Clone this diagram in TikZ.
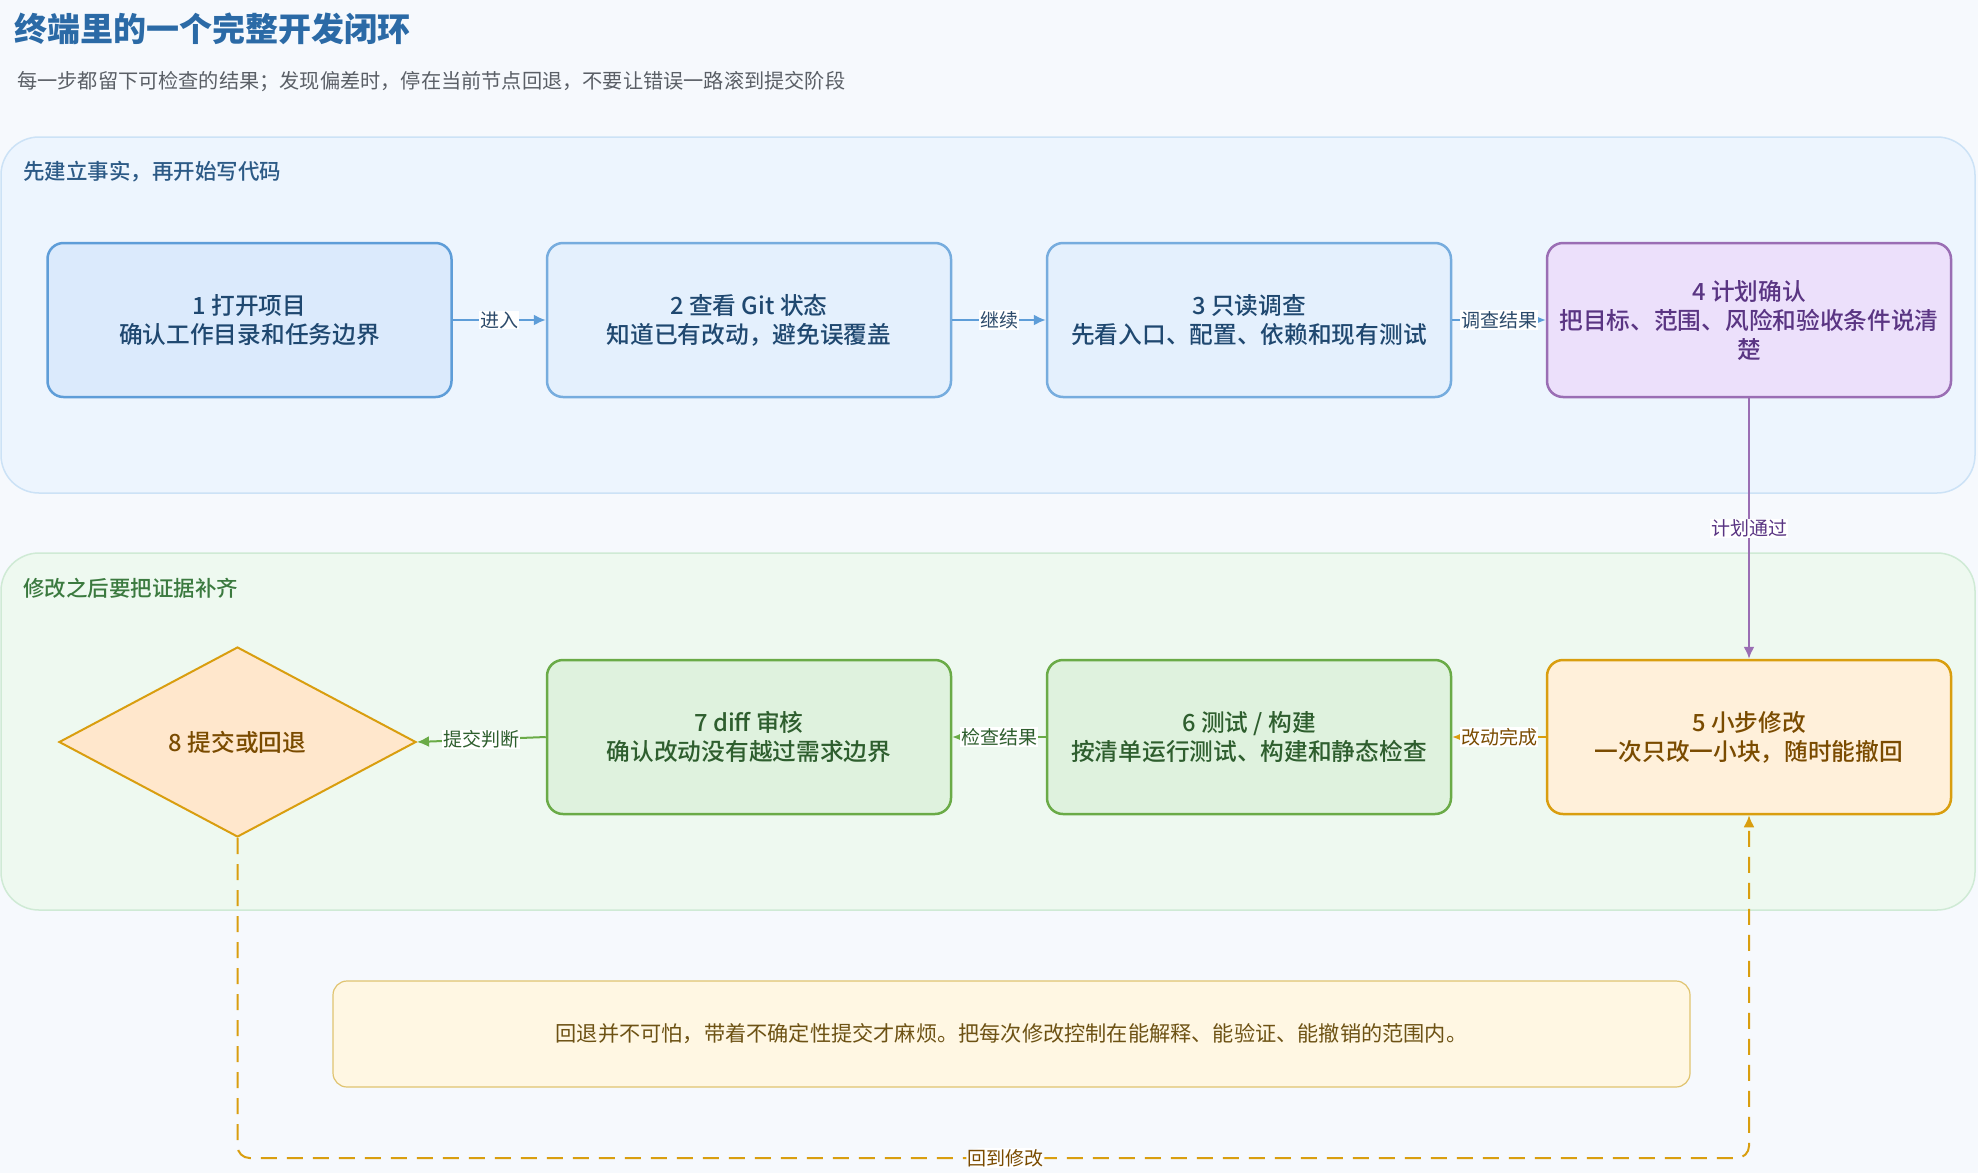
\documentclass[tikz,border=0pt]{standalone}
\usepackage{fontspec}
\setmainfont{Noto Sans CJK SC}
\newfontfamily\medfont{Noto Sans CJK SC Medium}
\usetikzlibrary{arrows.meta,shapes.geometric}
\definecolor{bgc}{HTML}{F6F9FD}
\definecolor{lanebfill}{HTML}{EDF5FE}
\definecolor{lanebdraw}{HTML}{CCE2F6}
\definecolor{lanegfill}{HTML}{EEF9F0}
\definecolor{lanegdraw}{HTML}{CFEAD5}
\definecolor{titlec}{HTML}{2B6AA6}
\definecolor{subc}{HTML}{5A5F66}
\definecolor{lanebtext}{HTML}{2C5A86}
\definecolor{lanegtext}{HTML}{3B7A3F}
\definecolor{bluetext}{HTML}{1F4870}
\definecolor{purpletext}{HTML}{5A3583}
\definecolor{greentext}{HTML}{2E5E2E}
\definecolor{browntext}{HTML}{7A4B00}
\definecolor{notetext}{HTML}{6D5214}
\definecolor{blue1fill}{HTML}{DBEAFC}
\definecolor{blue2fill}{HTML}{E4F0FD}
\definecolor{bluedraw}{HTML}{5E9DD8}
\definecolor{purplefill}{HTML}{ECE0FB}
\definecolor{purpledraw}{HTML}{9A6EB4}
\definecolor{orangefill}{HTML}{FFF0DA}
\definecolor{orangedraw}{HTML}{D99E0F}
\definecolor{greenfill}{HTML}{DFF2DE}
\definecolor{greendraw}{HTML}{6AAB47}
\definecolor{diamfill}{HTML}{FFE7CC}
\definecolor{notefill}{HTML}{FFF7E3}
\definecolor{notedraw}{HTML}{E0C470}
\definecolor{edgebluetext}{HTML}{2C4A6A}
\begin{document}
\begin{tikzpicture}[x=1pt,y=-1pt,
  stepbox/.style={draw, rounded corners=16pt, line width=2.5pt, minimum width=404pt, minimum height=154pt, align=center, inner sep=4pt, font=\fontsize{23.7}{29}\selectfont\medfont},
  lanebox/.style={rounded corners=38pt, line width=1.5pt},
  elabel/.style={fill=white, inner sep=1pt, font=\fontsize{19}{21}\selectfont},
  arr/.style={line width=2pt, -{Latex[length=12pt,width=11pt]}},
]
\fill[bgc] (0,0) rectangle (1978,1173);
\useasboundingbox (0,0) rectangle (1978,1173);

% titles
\node[anchor=west, inner sep=0, text=titlec, font=\fontsize{33}{38}\selectfont\bfseries] (title) at (14,29) {终端里的一个完整开发闭环};
\node[anchor=west, inner sep=0, text=subc, font=\fontsize{20.2}{24}\selectfont] (subtitle) at (17,82) {每一步都留下可检查的结果；发现偏差时，停在当前节点回退，不要让错误一路滚到提交阶段};

% lanes
\draw[lanebox, fill=lanebfill, draw=lanebdraw] (1,137) rectangle (1975,493);
\node[anchor=west, inner sep=0, text=lanebtext, font=\fontsize{21.5}{24}\selectfont\medfont] (lane1) at (23,172) {先建立事实，再开始写代码};
\draw[lanebox, fill=lanegfill, draw=lanegdraw] (1,553) rectangle (1975,910);
\node[anchor=west, inner sep=0, text=lanegtext, font=\fontsize{21.5}{24}\selectfont\medfont] (lane2) at (23,588) {修改之后要把证据补齐};

% top row
\node[stepbox, fill=blue1fill, draw=bluedraw, text=bluetext] (b1) at (249.5,320) {1 打开项目\\确认工作目录和任务边界};
\node[stepbox, fill=blue2fill, draw=bluedraw!85, text=bluetext] (b2) at (749,320) {2 查看 Git 状态\\知道已有改动，避免误覆盖};
\node[stepbox, fill=blue2fill, draw=bluedraw!85, text=bluetext] (b3) at (1249,320) {3 只读调查\\先看入口、配置、依赖和现有测试};
\node[stepbox, fill=purplefill, draw=purpledraw, text=purpletext] (b4) at (1749,320) {4 计划确认\\把目标、范围、风险和验收条件说清\\楚};

% bottom row
\node[stepbox, fill=orangefill, draw=orangedraw, text=browntext] (b5) at (1749,737) {5 小步修改\\一次只改一小块，随时能撤回};
\node[stepbox, fill=greenfill, draw=greendraw, text=greentext] (b6) at (1249,737) {6 测试 / 构建\\按清单运行测试、构建和静态检查};
\node[stepbox, fill=greenfill, draw=greendraw, text=greentext] (b7) at (749,737) {7 diff 审核\\确认改动没有越过需求边界};
\node[diamond, draw=orangedraw, fill=diamfill, line width=2pt, minimum width=357pt, minimum height=190pt, inner sep=0pt, text=browntext, font=\fontsize{23.7}{29}\selectfont\medfont] (b8) at (237.5,742) {8 提交或回退};

% note
\node[draw=notedraw, fill=notefill, line width=1.2pt, rounded corners=14pt, minimum width=1357pt, minimum height=106pt, text=notetext, font=\fontsize{21.2}{24}\selectfont] (note) at (1011.5,1034) {回退并不可怕，带着不确定性提交才麻烦。把每次修改控制在能解释、能验证、能撤销的范围内。};

% edges
\draw[arr, draw=bluedraw, color=bluedraw] (b1.east) -- node[elabel, text=edgebluetext] {进入} (b2.west);
\draw[arr, draw=bluedraw, color=bluedraw] (b2.east) -- node[elabel, text=edgebluetext] {继续} (b3.west);
\draw[arr, draw=bluedraw, color=bluedraw] (b3.east) -- node[elabel, text=edgebluetext] {调查结果} (b4.west);
\draw[arr, draw=purpledraw, color=purpledraw] (b4.south) -- node[elabel, text=purpletext, pos=0.5] {计划通过} (b5.north);
\draw[arr, draw=orangedraw, color=orangedraw] (b5.west) -- node[elabel, text=browntext] {改动完成} (b6.east);
\draw[arr, draw=greendraw, color=greendraw] (b6.west) -- node[elabel, text=greentext] {检查结果} (b7.east);
\draw[arr, draw=greendraw, color=greendraw] (b7.west) -- node[elabel, text=greentext] {提交判断} (b8.east);

\coordinate (lp1) at (237.5,1158);
\coordinate (lp2) at (1749,1158);
\draw[arr, draw=orangedraw, color=orangedraw, dash pattern=on 16pt off 10pt, rounded corners=12pt] (b8.south) -- (lp1) -- node[elabel, text=browntext, pos=0.508] {回到修改} (lp2) -- (b5.south);
\end{tikzpicture}
\end{document}
